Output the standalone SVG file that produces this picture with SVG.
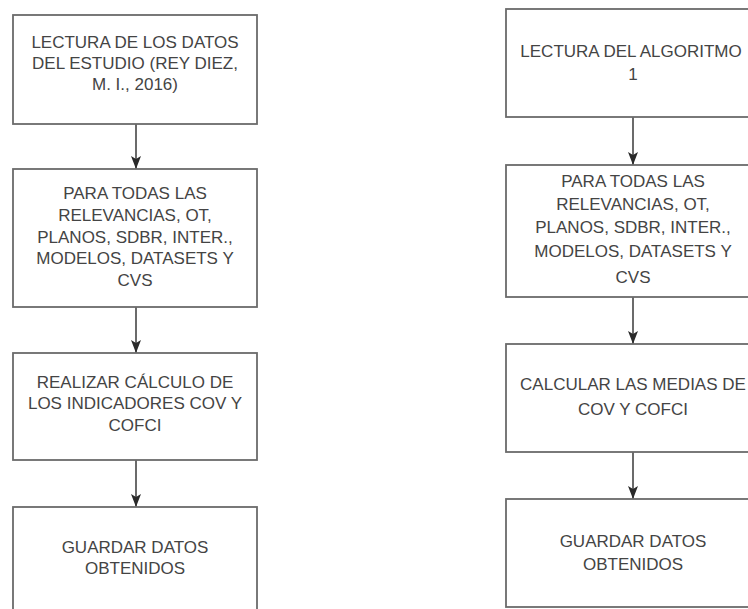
<svg xmlns="http://www.w3.org/2000/svg" width="748" height="609" viewBox="0 0 748 609">
<defs>
<style>
.box{fill:#fff;stroke:#6b6b6b;stroke-width:1.8}
.t{font-family:"Liberation Sans",Arial,sans-serif;font-size:17px;fill:#444;text-anchor:middle}
.c{stroke:#3a3a3a;stroke-width:1.5;fill:none;marker-end:url(#ah)}
</style>
<marker id="ah" markerWidth="13" markerHeight="10" refX="13" refY="5" orient="auto" markerUnits="userSpaceOnUse" viewBox="0 0 13 10">
<path d="M0,0 L13,5 L0,10 L3,5 Z" fill="#2a2a2a"/>
</marker>
</defs>
<rect width="748" height="609" fill="#fff"/>
<g id="connectors">
<line class="c" x1="136" y1="124" x2="136" y2="169"/>
<line class="c" x1="136" y1="307" x2="136" y2="353"/>
<line class="c" x1="136" y1="460" x2="136" y2="507"/>
<line class="c" x1="633" y1="117" x2="633" y2="165"/>
<line class="c" x1="633" y1="297" x2="633" y2="344"/>
<line class="c" x1="633" y1="452" x2="633" y2="499"/>
</g>
<g id="l1">
<rect class="box" x="13" y="15" width="244" height="109"/>
<text class="t" x="135" y="48">LECTURA DE LOS DATOS</text>
<text class="t" x="135" y="69">DEL ESTUDIO (REY DIEZ,</text>
<text class="t" x="135" y="90">M. I., 2016)</text>
</g>
<g id="l2">
<rect class="box" x="13" y="169" width="244" height="138"/>
<text class="t" x="135" y="199">PARA TODAS LAS</text>
<text class="t" x="135" y="221">RELEVANCIAS, OT,</text>
<text class="t" x="135" y="243">PLANOS, SDBR, INTER.,</text>
<text class="t" x="135" y="264">MODELOS, DATASETS Y</text>
<text class="t" x="135" y="286">CVS</text>
</g>
<g id="l3">
<rect class="box" x="13" y="353" width="244" height="107"/>
<text class="t" x="135" y="388">REALIZAR CÁLCULO DE</text>
<text class="t" x="135" y="409">LOS INDICADORES COV  Y</text>
<text class="t" x="135" y="431">COFCI</text>
</g>
<g id="l4">
<rect class="box" x="13" y="507" width="244" height="110"/>
<text class="t" x="135" y="553">GUARDAR DATOS</text>
<text class="t" x="135" y="574">OBTENIDOS</text>
</g>
<g id="r1">
<rect class="box" x="506" y="9" width="260" height="108"/>
<text class="t" x="631" y="57">LECTURA DEL ALGORITMO</text>
<text class="t" x="633" y="80">1</text>
</g>
<g id="r2">
<rect class="box" x="506" y="165" width="260" height="132"/>
<text class="t" x="633" y="187">PARA TODAS LAS</text>
<text class="t" x="633" y="210">RELEVANCIAS, OT,</text>
<text class="t" x="633" y="233">PLANOS, SDBR, INTER.,</text>
<text class="t" x="633" y="257">MODELOS, DATASETS Y</text>
<text class="t" x="633" y="283">CVS</text>
</g>
<g id="r3">
<rect class="box" x="506" y="344" width="260" height="108"/>
<text class="t" x="633" y="390">CALCULAR LAS MEDIAS DE</text>
<text class="t" x="633" y="415">COV Y COFCI</text>
</g>
<g id="r4">
<rect class="box" x="506" y="499" width="260" height="108"/>
<text class="t" x="633" y="547">GUARDAR DATOS</text>
<text class="t" x="633" y="570">OBTENIDOS</text>
</g>
</svg>
